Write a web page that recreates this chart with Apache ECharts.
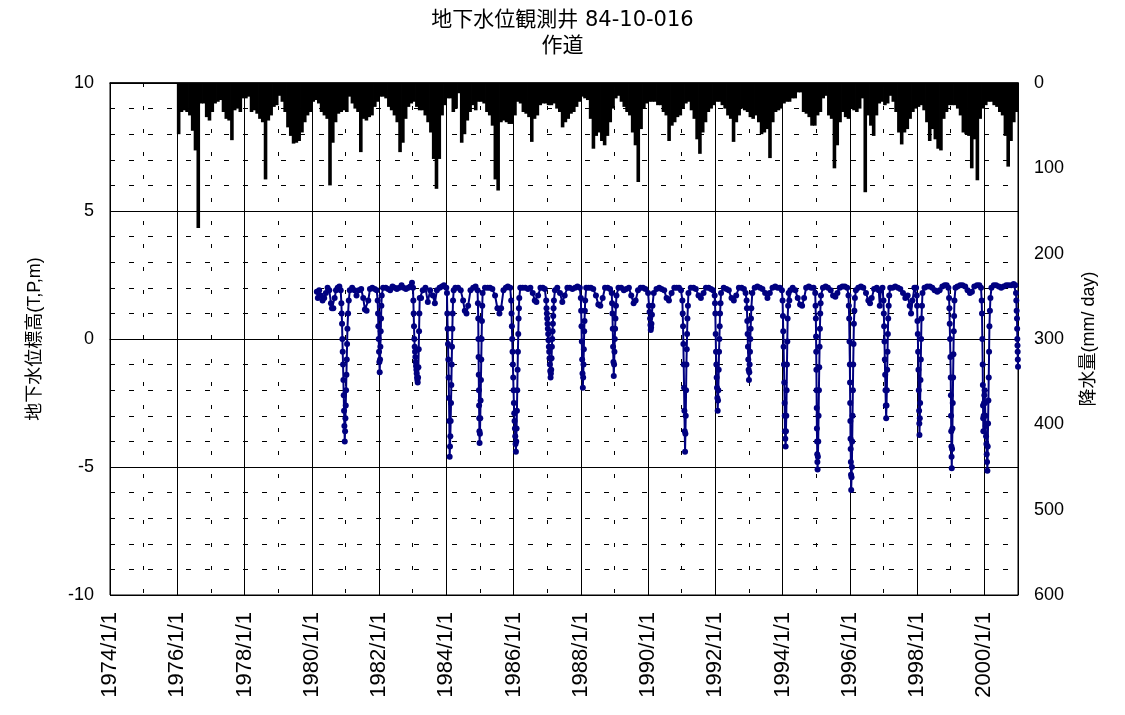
<!DOCTYPE html>
<html>
<head>
<meta charset="utf-8">
<script src="https://cdn.jsdelivr.net/npm/echarts@6/dist/echarts.min.js"></script>
<style>
html,body{margin:0;padding:0;background:#fff;}
#chart{width:1125px;height:715px;}
</style>
</head>
<body>
<div id="chart"></div>
<script>
// ---- Data ----
const titleLines = ['地下水位観測井 84-10-016', '作道'];
const leftAxisName = '地下水位標高(T,P,m)';
const rightAxisName = '降水量(mm/ day)';
const xLabels = ['1974/1/1','1976/1/1','1978/1/1','1980/1/1','1982/1/1','1984/1/1','1986/1/1',
  '1988/1/1','1990/1/1','1992/1/1','1994/1/1','1996/1/1','1998/1/1','2000/1/1'];

// Rainfall (mm/day), one value per month starting 1976/1
const rainStartYear = 1976;
const rainMonthly = [
  60,34,32,34,38,56,79,170,24,24,40,44,   // 1976
  34,24,22,20,34,42,44,67,32,30,34,18,    // 1977
  18,16,34,32,36,42,46,113,44,38,28,26,   // 1978
  15,22,34,52,62,71,70,68,58,46,38,34,    // 1979
  22,20,24,34,38,42,120,70,46,36,34,32,   // 1980
  34,16,24,30,34,81,42,44,40,38,28,22,    // 1981
  16,16,18,28,32,38,46,81,70,42,28,24,    // 1982
  22,28,32,32,38,46,58,89,124,89,38,26,   // 1983
  18,18,34,30,12,70,60,44,34,26,32,22,    // 1984
  22,24,34,38,50,113,126,46,44,46,48,48,  // 1985
  38,22,24,34,36,40,69,42,38,26,24,24,    // 1986
  26,26,24,30,34,52,46,42,36,34,28,22,    // 1987
  16,18,20,42,77,62,58,68,73,62,46,30,    // 1988
  18,15,22,28,34,38,58,73,116,54,30,24,   // 1989
  22,22,22,26,26,34,38,68,50,46,40,38,    // 1990
  30,24,22,32,42,66,83,58,46,34,30,26,    // 1991
  22,22,26,30,38,42,69,46,38,30,32,34,    // 1992
  40,42,38,46,60,58,54,88,46,34,32,30,    // 1993
  24,22,22,18,18,11,11,34,36,40,50,50,    // 1994
  38,34,18,15,38,42,100,73,46,34,40,42,   // 1995
  30,32,34,30,18,128,38,50,62,38,24,22,   // 1996
  26,24,15,22,34,58,72,58,54,42,34,30,    // 1997
  28,26,32,46,68,54,66,77,79,42,34,26,    // 1998
  26,26,30,38,58,60,62,100,66,114,42,30,  // 1999
  26,22,22,26,28,34,38,62,98,68,46,34     // 2000
];

// Groundwater level (T.P. m): [decimal year, level]
const groundwater = [
  // 1980
  [1980.15,1.85],[1980.18,1.6],[1980.22,1.9],[1980.27,1.7],[1980.32,1.5],[1980.37,1.6],[1980.42,1.8],[1980.47,2.0],[1980.52,1.9],[1980.57,1.4],[1980.6,1.2],[1980.64,1.2],[1980.68,1.6],[1980.72,1.9],[1980.77,2.0],[1980.82,2.05],[1980.86,1.9],
  [1980.88,1.4],[1980.89,1.0],[1980.9,0.6],[1980.91,0.0],[1980.92,-0.5],[1980.93,-1.0],[1980.94,-1.6],[1980.95,-2.2],[1980.96,-2.8],[1980.97,-3.4],[1980.98,-4.0],
  [1980.99,-3.6],[1981.0,-3.1],[1981.01,-2.6],[1981.02,-2.0],[1981.03,-1.4],[1981.04,-0.8],[1981.05,-0.2],[1981.06,0.4],[1981.08,1.0],[1981.1,1.5],[1981.13,1.9],
  // 1981
  [1981.2,2.0],[1981.27,1.9],[1981.33,1.7],[1981.4,1.9],[1981.47,1.95],[1981.53,1.6],[1981.58,1.15],[1981.63,1.1],[1981.68,1.5],[1981.73,1.95],[1981.8,2.0],[1981.87,1.95],[1981.93,1.9],
  [1981.96,1.5],[1981.97,1.0],[1981.98,0.5],[1981.99,0.0],[1982.0,-0.5],[1982.01,-0.9],[1982.02,-1.3],[1982.03,-0.8],[1982.04,-0.3],[1982.05,0.3],[1982.06,0.8],[1982.07,1.3],[1982.08,1.7],
  // 1982
  [1982.12,2.0],[1982.2,2.0],[1982.27,1.95],[1982.33,1.9],[1982.4,2.05],[1982.47,2.0],[1982.53,1.95],[1982.6,2.0],[1982.67,2.1],[1982.73,2.0],[1982.8,1.95],[1982.87,2.0],[1982.93,2.05],[1982.98,2.2],[1983.01,2.0],
  [1983.02,1.5],[1983.03,1.0],[1983.04,0.5],[1983.05,0.0],[1983.06,-0.3],[1983.07,-0.5],[1983.08,-0.7],[1983.09,-0.9],[1983.1,-1.05],[1983.11,-1.2],[1983.12,-1.35],[1983.13,-1.5],[1983.14,-1.6],[1983.15,-1.7],
  [1983.16,-1.5],[1983.17,-1.1],[1983.18,-0.4],[1983.19,0.3],[1983.2,1.0],[1983.21,1.6],
  // 1983
  [1983.25,1.6],[1983.3,1.9],[1983.38,2.0],[1983.45,1.45],[1983.52,1.9],[1983.6,1.7],[1983.66,1.4],[1983.72,1.9],[1983.8,2.0],[1983.87,2.05],[1983.93,2.1],[1984.0,2.0],
  [1984.02,1.8],[1984.03,1.0],[1984.04,0.4],[1984.05,-0.2],[1984.06,-0.8],[1984.07,-1.5],[1984.08,-2.3],[1984.09,-3.2],[1984.1,-4.6],
  [1984.11,-4.2],[1984.12,-3.8],[1984.13,-3.2],[1984.14,-2.5],[1984.15,-1.8],[1984.16,-1.0],[1984.17,-0.3],[1984.18,0.4],[1984.19,1.0],[1984.2,1.5],[1984.22,1.9],
  // 1984
  [1984.27,2.0],[1984.35,2.0],[1984.43,1.9],[1984.5,1.5],[1984.55,1.1],[1984.6,1.0],[1984.65,1.3],[1984.72,1.9],[1984.8,2.0],[1984.87,2.05],[1984.93,1.9],
  [1984.94,1.4],[1984.95,0.8],[1984.955,0.0],[1984.96,-0.7],[1984.965,-1.4],[1984.97,-2.0],[1984.975,-2.6],[1984.98,-3.1],[1984.985,-3.6],[1984.99,-4.06],
  [1985.0,-3.7],[1985.01,-3.1],[1985.02,-2.4],[1985.03,-1.6],[1985.04,-0.8],[1985.05,0.0],[1985.06,0.7],[1985.07,1.3],[1985.08,1.8],
  // 1985
  [1985.15,2.0],[1985.23,2.0],[1985.3,2.0],[1985.37,1.95],[1985.45,1.7],[1985.52,1.2],[1985.58,1.0],[1985.63,1.2],[1985.7,1.9],[1985.77,2.0],[1985.83,2.05],[1985.9,2.0],
  [1985.93,1.5],[1985.94,1.0],[1985.95,0.5],[1985.96,0.0],[1985.97,-0.5],[1985.98,-1.0],[1985.99,-1.5],[1986.0,-2.0],[1986.01,-2.5],[1986.02,-2.9],[1986.03,-3.2],[1986.04,-3.5],[1986.05,-3.8],[1986.06,-4.1],[1986.07,-4.4],
  [1986.08,-4.0],[1986.09,-3.5],[1986.1,-2.8],[1986.11,-2.0],[1986.12,-1.2],[1986.13,-0.5],[1986.14,0.2],[1986.15,0.8],[1986.16,1.2],[1986.17,1.6],[1986.2,2.0],
  // 1986
  [1986.27,2.0],[1986.35,2.0],[1986.43,1.95],[1986.5,2.0],[1986.57,1.8],[1986.63,1.5],[1986.68,1.45],[1986.73,1.7],[1986.8,2.0],[1986.87,2.0],[1986.93,1.95],
  [1986.97,1.5],[1986.98,1.2],[1986.99,1.0],[1987.0,0.8],[1987.01,0.6],[1987.02,0.4],[1987.03,0.2],[1987.04,-0.05],[1987.05,-0.3],[1987.06,-0.5],[1987.07,-0.75],[1987.08,-1.0],[1987.09,-1.25],[1987.1,-1.5],
  [1987.11,-1.35],[1987.12,-1.2],[1987.13,-0.75],[1987.14,-0.3],[1987.15,0.0],[1987.16,0.3],[1987.17,0.6],[1987.18,0.9],[1987.19,1.2],[1987.2,1.5],[1987.23,1.9],
  // 1987
  [1987.3,2.0],[1987.38,1.8],[1987.45,1.45],[1987.52,1.7],[1987.6,2.0],[1987.67,2.0],[1987.75,1.95],[1987.83,2.0],[1987.9,2.05],[1987.97,2.0],
  [1988.0,1.6],[1988.01,1.1],[1988.02,0.5],[1988.03,-0.1],[1988.04,-0.8],[1988.05,-1.35],[1988.06,-1.9],
  [1988.07,-1.5],[1988.08,-1.0],[1988.09,-0.4],[1988.1,0.3],[1988.11,0.7],[1988.12,1.1],[1988.13,1.5],[1988.16,2.0],
  // 1988
  [1988.23,2.0],[1988.3,2.0],[1988.37,1.95],[1988.45,1.7],[1988.52,1.35],[1988.58,1.3],[1988.65,1.6],[1988.72,2.0],[1988.8,2.0],[1988.87,1.95],[1988.92,1.8],
  [1988.93,1.4],[1988.94,1.0],[1988.95,0.4],[1988.96,-0.3],[1988.97,-0.9],[1988.98,-1.45],
  [1988.99,-1.0],[1989.0,-0.5],[1989.01,0.0],[1989.02,0.4],[1989.03,0.8],[1989.045,1.3],[1989.06,1.7],
  // 1989
  [1989.12,2.0],[1989.2,2.0],[1989.28,1.9],[1989.35,1.95],[1989.43,2.0],[1989.5,1.7],[1989.57,1.4],[1989.63,1.5],[1989.7,1.9],[1989.78,2.0],[1989.85,2.0],[1989.92,1.95],[1990.0,1.8],
  [1990.03,1.3],[1990.045,1.05],[1990.06,0.8],[1990.07,0.55],[1990.08,0.35],[1990.09,0.45],[1990.1,0.6],[1990.115,0.95],[1990.13,1.3],[1990.17,1.8],
  // 1990
  [1990.25,1.95],[1990.33,2.0],[1990.4,1.95],[1990.48,1.9],[1990.55,1.6],[1990.62,1.5],[1990.7,1.8],[1990.78,2.0],[1990.85,2.0],[1990.92,2.0],[1990.98,1.9],
  [1991.02,1.5],[1991.03,1.0],[1991.04,0.5],[1991.05,-0.2],[1991.06,-1.0],[1991.07,-1.9],[1991.08,-2.8],[1991.09,-3.6],[1991.1,-4.4],
  [1991.11,-3.7],[1991.12,-3.0],[1991.13,-2.0],[1991.14,-1.0],[1991.15,-0.4],[1991.16,0.2],[1991.17,0.8],[1991.185,1.3],[1991.2,1.8],
  // 1991
  [1991.27,2.0],[1991.35,2.0],[1991.42,1.95],[1991.5,1.7],[1991.57,1.6],[1991.65,1.8],[1991.72,2.0],[1991.8,2.0],[1991.87,1.95],[1991.93,1.9],[1991.98,1.7],
  [1991.99,1.4],[1992.0,1.0],[1992.01,0.2],[1992.02,-0.5],[1992.03,-1.0],[1992.04,-1.5],[1992.05,-1.9],[1992.06,-2.3],[1992.07,-2.8],
  [1992.08,-2.4],[1992.09,-2.0],[1992.1,-1.2],[1992.11,-0.5],[1992.12,0.0],[1992.13,0.5],[1992.14,1.0],[1992.155,1.4],[1992.17,1.8],
  // 1992
  [1992.25,2.0],[1992.33,1.95],[1992.4,1.9],[1992.48,1.6],[1992.55,1.5],[1992.62,1.7],[1992.7,2.0],[1992.78,2.0],[1992.85,1.95],[1992.9,1.8],
  [1992.93,1.5],[1992.94,1.2],[1992.95,0.7],[1992.96,0.2],[1992.97,-0.3],[1992.98,-0.8],[1992.99,-1.2],[1993.0,-1.6],
  [1993.01,-1.3],[1993.02,-1.0],[1993.03,-0.5],[1993.04,0.0],[1993.05,0.4],[1993.06,0.8],[1993.07,1.2],[1993.1,1.8],
  // 1993
  [1993.17,2.0],[1993.25,2.05],[1993.33,2.0],[1993.4,1.95],[1993.48,1.8],[1993.55,1.6],[1993.62,1.8],[1993.7,2.0],[1993.78,2.05],[1993.85,2.0],[1993.92,2.0],[1993.98,1.9],
  [1994.0,1.5],[1994.01,0.9],[1994.02,0.3],[1994.03,-0.3],[1994.04,-1.0],[1994.05,-1.7],[1994.06,-2.5],[1994.065,-3.0],[1994.07,-3.6],[1994.08,-3.9],[1994.09,-4.2],
  [1994.1,-3.6],[1994.11,-3.0],[1994.12,-2.0],[1994.13,-1.0],[1994.14,-0.1],[1994.15,0.8],[1994.165,1.3],[1994.18,1.8],[1994.2,1.5],[1994.23,1.9],
  // 1994
  [1994.3,2.0],[1994.38,1.9],[1994.45,1.6],[1994.52,1.35],[1994.58,1.3],[1994.64,1.6],[1994.7,2.0],[1994.78,2.05],[1994.85,2.0],[1994.92,2.0],[1994.97,1.8],
  [1994.98,1.3],[1994.99,0.8],[1994.995,0.1],[1995.0,-0.5],[1995.005,-1.2],[1995.01,-2.0],[1995.015,-2.7],[1995.02,-3.5],[1995.025,-4.0],[1995.03,-4.5],[1995.035,-4.8],[1995.04,-5.1],
  [1995.05,-4.6],[1995.06,-4.0],[1995.07,-3.0],[1995.08,-2.0],[1995.09,-1.1],[1995.1,-0.3],[1995.11,0.4],[1995.12,1.0],[1995.13,1.4],[1995.14,1.7],
  // 1995
  [1995.2,2.0],[1995.28,2.05],[1995.35,2.0],[1995.43,1.9],[1995.5,1.7],[1995.57,1.65],[1995.63,1.8],[1995.7,2.0],[1995.78,2.05],[1995.85,2.05],[1995.92,2.0],[1995.96,1.7],
  [1995.97,1.3],[1995.98,0.8],[1995.99,-0.1],[1996.0,-1.0],[1996.005,-1.7],[1996.01,-2.5],[1996.015,-3.2],[1996.02,-3.9],[1996.025,-4.3],[1996.03,-4.8],[1996.035,-5.3],[1996.04,-5.9],
  [1996.05,-5.4],[1996.06,-5.0],[1996.07,-4.0],[1996.08,-3.0],[1996.09,-2.0],[1996.1,-1.0],[1996.11,-0.2],[1996.12,0.6],[1996.135,1.1],[1996.15,1.6],[1996.18,1.9],
  // 1996
  [1996.25,2.0],[1996.33,2.05],[1996.4,2.0],[1996.48,1.8],[1996.55,1.5],[1996.6,1.4],[1996.65,1.6],[1996.72,1.95],[1996.8,2.0],[1996.86,1.9],[1996.89,1.3],[1996.92,1.9],[1996.97,2.0],
  [1997.0,1.5],[1997.01,1.0],[1997.02,0.5],[1997.03,-0.1],[1997.04,-0.8],[1997.05,-1.4],[1997.06,-2.0],[1997.07,-2.6],[1997.08,-3.1],
  [1997.09,-2.6],[1997.1,-2.0],[1997.11,-1.2],[1997.12,-0.5],[1997.13,0.2],[1997.14,0.8],[1997.155,1.3],[1997.17,1.7],[1997.2,2.0],
  // 1997
  [1997.27,2.0],[1997.35,2.05],[1997.43,2.0],[1997.5,1.95],[1997.58,1.8],[1997.65,1.6],[1997.72,1.7],[1997.78,1.3],[1997.82,1.0],[1997.86,1.5],[1997.92,2.0],[1997.97,2.0],
  [1997.99,1.7],[1998.0,1.3],[1998.01,0.7],[1998.02,0.2],[1998.03,-0.5],[1998.04,-1.2],[1998.05,-2.0],[1998.06,-2.8],[1998.065,-3.3],[1998.07,-3.75],
  [1998.08,-3.1],[1998.09,-2.5],[1998.1,-1.6],[1998.11,-0.8],[1998.12,0.0],[1998.13,0.8],[1998.145,1.3],[1998.16,1.8],
  // 1998
  [1998.22,2.0],[1998.3,2.05],[1998.38,2.05],[1998.45,2.0],[1998.52,1.9],[1998.6,1.85],[1998.67,1.9],[1998.75,2.05],[1998.82,2.1],[1998.88,2.1],[1998.93,2.0],
  [1998.95,1.6],[1998.96,1.2],[1998.97,0.6],[1998.98,0.0],[1998.99,-0.7],[1999.0,-1.5],[1999.005,-2.2],[1999.01,-3.0],[1999.015,-3.6],[1999.02,-4.2],[1999.025,-4.6],[1999.03,-5.05],
  [1999.04,-4.3],[1999.05,-3.5],[1999.06,-2.5],[1999.07,-1.5],[1999.08,-0.6],[1999.09,0.3],[1999.1,0.9],[1999.11,1.5],[1999.14,2.0],
  // 1999
  [1999.2,2.05],[1999.28,2.1],[1999.35,2.1],[1999.43,2.05],[1999.5,1.9],[1999.57,1.8],[1999.63,1.85],[1999.7,2.05],[1999.78,2.1],[1999.85,2.1],[1999.9,2.0],
  [1999.92,1.5],[1999.93,1.0],[1999.94,0.0],[1999.95,-1.0],[1999.955,-1.8],[1999.96,-2.6],[1999.965,-3.1],[1999.97,-3.6],[1999.98,-3.0],[1999.99,-2.5],[2000.0,-2.2],
  [2000.01,-2.0],[2000.02,-2.5],[2000.03,-3.0],[2000.04,-3.4],[2000.05,-3.8],[2000.06,-4.1],[2000.07,-4.5],[2000.08,-4.8],[2000.09,-5.15],
  [2000.1,-4.2],[2000.11,-3.3],[2000.12,-2.4],[2000.13,-1.5],[2000.14,-0.5],[2000.15,0.5],[2000.165,1.1],[2000.18,1.6],[2000.21,2.0],
  // 2000
  [2000.28,2.1],[2000.35,2.1],[2000.43,2.05],[2000.5,2.0],[2000.57,2.05],[2000.65,2.1],[2000.72,2.1],[2000.8,2.1],[2000.87,2.15],[2000.92,2.1],
  [2000.94,1.8],[2000.95,1.5],[2000.96,1.1],[2000.97,0.8],[2000.975,0.4],[2000.98,0.0],[2000.985,-0.25],[2000.99,-0.5],[2000.995,-0.8],[2001.0,-1.08]
];

// ---- Build chart ----
const rainData = rainMonthly.map((v, i) => [rainStartYear + (i + 0.5) / 12, v]);
const labelFont = '"Liberation Sans", Arial, sans-serif';
const cjkFont = '"Liberation Sans", "Noto Sans CJK JP", sans-serif';
const titleFont = '"DejaVu Sans", "Noto Sans CJK JP", sans-serif';

const chart = echarts.init(document.getElementById('chart'), null, {renderer: 'canvas'});
chart.setOption({
  animation: false,
  backgroundColor: '#fff',
  title: {
    text: titleLines.join('\n'),
    left: 'center',
    top: 3,
    textStyle: {fontFamily: titleFont, fontSize: 21, fontWeight: 'normal', color: '#000', lineHeight: 26}
  },
  grid: {left: 110, right: 107, top: 83, bottom: 120, show: true, borderColor: '#000', borderWidth: 1, backgroundColor: 'transparent'},
  xAxis: [
    {
      type: 'value', min: 1974, max: 2001, interval: 1,
      axisLine: {show: true, lineStyle: {color: '#000', width: 1}},
      axisTick: {show: true, inside: true, length: 4, lineStyle: {color: '#000'}},
      axisLabel: {show: false},
      splitLine: {show: true, lineStyle: {color: '#000', width: 1, type: [4, 19]}}
    },
    {
      type: 'value', min: 1974, max: 2001, interval: 2, position: 'bottom',
      axisLine: {show: true, lineStyle: {color: '#000', width: 1.5}},
      axisTick: {show: false},
      axisLabel: {
        show: true, rotate: 90, margin: 17, color: '#000', fontFamily: labelFont, fontSize: 22,
        formatter: function (v) {
          const idx = Math.round((v - 1974) / 2);
          return (Math.abs(v - (1974 + idx * 2)) < 1e-6 && xLabels[idx]) ? xLabels[idx] : '';
        }
      },
      splitLine: {show: true, lineStyle: {color: '#000', width: 1}}
    }
  ],
  yAxis: [
    {
      type: 'value', min: -10, max: 10, interval: 5, position: 'left',
      name: leftAxisName, nameLocation: 'middle', nameRotate: 90, nameGap: 66,
      nameTextStyle: {fontFamily: cjkFont, fontSize: 18, color: '#000'},
      axisLine: {show: true, lineStyle: {color: '#000', width: 1}},
      axisTick: {show: false},
      axisLabel: {color: '#000', fontFamily: labelFont, fontSize: 18, margin: 16},
      splitLine: {show: true, lineStyle: {color: '#000', width: 1}},
      minorTick: {show: false, splitNumber: 5},
      minorSplitLine: {show: true, lineStyle: {color: '#000', width: 1, type: [5, 14]}}
    },
    {
      type: 'value', min: 0, max: 600, interval: 100, position: 'right', inverse: true,
      name: rightAxisName, nameLocation: 'middle', nameRotate: 90, nameGap: 62,
      nameTextStyle: {fontFamily: cjkFont, fontSize: 18, color: '#000'},
      axisLine: {show: true, lineStyle: {color: '#000', width: 1}},
      axisTick: {show: false},
      axisLabel: {color: '#000', fontFamily: labelFont, fontSize: 18, margin: 16},
      splitLine: {show: false}
    }
  ],
  series: [
    {
      name: '降水量', type: 'bar', xAxisIndex: 0, yAxisIndex: 1,
      data: rainData, barWidth: 3.6, itemStyle: {color: '#000'}, z: 3
    },
    {
      name: '地下水位', type: 'line', xAxisIndex: 0, yAxisIndex: 0,
      data: groundwater, symbol: 'circle', symbolSize: 6, showSymbol: true,
      lineStyle: {color: '#000080', width: 2},
      itemStyle: {color: '#000080'}, z: 4
    }
  ]
});
</script>
</body>
</html>
